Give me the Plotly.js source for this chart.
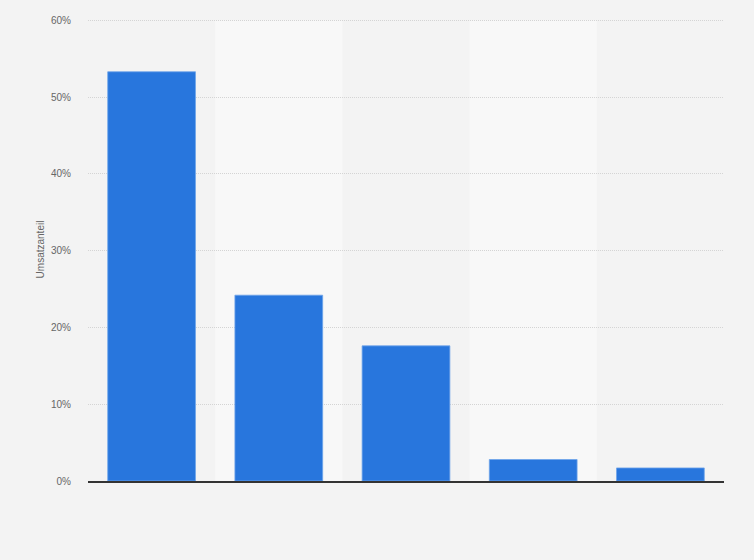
<!DOCTYPE html>
<html>
<head>
<meta charset="utf-8">
<script src="https://cdn.plot.ly/plotly-3.0.1.min.js"></script>
<style>
  html, body { margin: 0; padding: 0; background: #f3f3f3; }
  #plot { width: 754px; height: 560px; }
</style>
</head>
<body>
<div id="plot"></div>
<script>
// categories (labels are not shown in the chart)
var categories = ["1", "2", "3", "4", "5"];
var shares = [53.3, 24.2, 17.6, 2.8, 1.7];
var yTicks = [0, 10, 20, 30, 40, 50, 60];
var yTickText = ["0%", "10%", "20%", "30%", "40%", "50%", "60%"];

// lighter column bands behind every second category
var bands = [];
for (var i = 1; i < categories.length; i += 2) {
  bands.push({
    type: 'rect', xref: 'x', yref: 'y',
    x0: i - 0.5, x1: i + 0.5, y0: 0, y1: 60,
    fillcolor: '#f8f8f8', line: {width: 0}, layer: 'below'
  });
}

var trace = {
  type: 'bar',
  x: categories,
  y: shares,
  marker: {color: '#2876dd', line: {color: '#6ea4ea', width: 0.8}},
  hoverinfo: 'none'
};

var layout = {
  width: 754,
  height: 560,
  paper_bgcolor: '#f3f3f3',
  plot_bgcolor: '#f3f3f3',
  margin: {l: 88, r: 30, t: 18, b: 79},
  font: {family: 'Liberation Sans, Arial, sans-serif', color: '#666', size: 10},
  bargap: 0.31,
  showlegend: false,
  shapes: bands,
  xaxis: {
    type: 'category',
    showticklabels: false,
    showgrid: false,
    zeroline: false,
    showline: true,
    linecolor: '#333',
    linewidth: 1.5,
    ticks: ''
  },
  yaxis: {
    range: [0, 60.3],
    tickvals: yTicks,
    ticktext: yTickText,
    showgrid: true,
    gridcolor: '#d4d4d4',
    griddash: '1px,1px',
    zeroline: false,
    showline: false,
    ticks: '',
    ticklabelstandoff: 16,
    title: {text: 'Umsatzanteil', font: {size: 10, color: '#666'}, standoff: 4}
  }
};

Plotly.newPlot('plot', [trace], layout, {displayModeBar: false, staticPlot: true});
</script>
</body>
</html>
